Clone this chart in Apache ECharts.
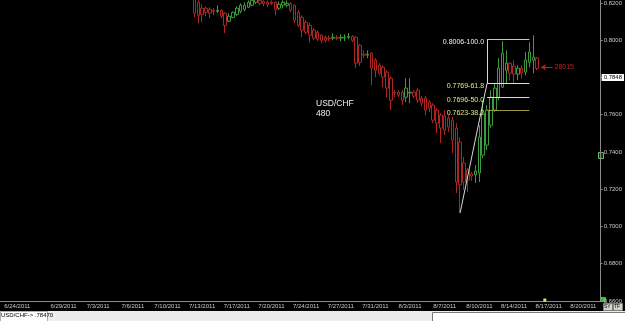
<!DOCTYPE html>
<html>
<head>
<meta charset="utf-8">
<title>USD/CHF 480</title>
<script src="https://cdn.jsdelivr.net/npm/echarts@6/dist/echarts.min.js"></script>
<style>
  html, body { margin: 0; padding: 0; background: #000; }
  #chart { width: 625px; height: 321px; }
</style>
</head>
<body>
<div id="chart"></div>
<script>
// USD/CHF, 8-hour bars (480 min)
const BAR_COUNT = 156
const LAST_TRADE_DAY = new Date(2011, 7, 16)

// dates that get a label on the time axis
const tickDates = ['6/24/2011', '6/29/2011', '7/3/2011', '7/6/2011', '7/10/2011', '7/13/2011',
  '7/17/2011', '7/20/2011', '7/24/2011', '7/27/2011', '7/31/2011', '8/3/2011', '8/7/2011',
  '8/10/2011', '8/14/2011', '8/17/2011', '8/20/2011']

// first bar that shows inside the price range (older ones sit above 0.82)
const firstCandle = '7/12/2011 08:00'

const opens = [
  0.8257, 0.8204, 0.8172, 0.8172, 0.8166, 0.8161, 0.8155, 0.8161, 0.8145, 0.8102,
  0.8123, 0.8139, 0.8155, 0.8166, 0.8177, 0.8188, 0.8204, 0.8214, 0.8209, 0.8204,
  0.8204, 0.8204, 0.8172, 0.8188, 0.8188, 0.8198, 0.8188, 0.8150, 0.8123, 0.8096,
  0.8080, 0.8054, 0.8043, 0.8027, 0.8016, 0.8011, 0.8011, 0.8013, 0.8011, 0.8013,
  0.8016, 0.8021, 0.8016, 0.7973, 0.7925, 0.7920, 0.7930, 0.7893, 0.7866, 0.7855,
  0.7829, 0.7796, 0.7721, 0.7721, 0.7721, 0.7694, 0.7716, 0.7721, 0.7732, 0.7689,
  0.7689, 0.7668, 0.7652, 0.7625, 0.7598, 0.7593, 0.7582, 0.7571, 0.7528, 0.7453,
  0.7341, 0.7303, 0.7282, 0.7277, 0.7287, 0.7383, 0.7437, 0.7544, 0.7625, 0.7694,
  0.7748, 0.7839, 0.7877, 0.7861, 0.7818, 0.7850, 0.7829, 0.7882, 0.7893, 0.7904
]
const closes = [
  0.8145, 0.8134, 0.8139, 0.8150, 0.8145, 0.8155, 0.8161, 0.8129, 0.8080, 0.8129,
  0.8150, 0.8172, 0.8188, 0.8188, 0.8204, 0.8214, 0.8220, 0.8198, 0.8198, 0.8193,
  0.8198, 0.8166, 0.8193, 0.8204, 0.8198, 0.8161, 0.8107, 0.8080, 0.8054, 0.8043,
  0.8027, 0.8011, 0.8005, 0.8000, 0.8000, 0.8008, 0.8016, 0.8011, 0.8016, 0.8016,
  0.8021, 0.8000, 0.7877, 0.7882, 0.7920, 0.7925, 0.7850, 0.7839, 0.7823, 0.7802,
  0.7743, 0.7678, 0.7716, 0.7705, 0.7678, 0.7743, 0.7721, 0.7700, 0.7678, 0.7662,
  0.7625, 0.7636, 0.7571, 0.7555, 0.7528, 0.7517, 0.7534, 0.7464, 0.7239, 0.7223,
  0.7239, 0.7250, 0.7271, 0.7298, 0.7480, 0.7609, 0.7625, 0.7694, 0.7743, 0.7850,
  0.7930, 0.7877, 0.7823, 0.7818, 0.7850, 0.7823, 0.7893, 0.7936, 0.7909, 0.7848
]
const lows = [
  0.8123, 0.8091, 0.8096, 0.8129, 0.8118, 0.8134, 0.8145, 0.8118, 0.8038, 0.8096,
  0.8118, 0.8129, 0.8145, 0.8155, 0.8172, 0.8182, 0.8193, 0.8188, 0.8182, 0.8177,
  0.8188, 0.8134, 0.8161, 0.8172, 0.8177, 0.8150, 0.8091, 0.8070, 0.8016, 0.8032,
  0.7989, 0.8000, 0.7995, 0.7984, 0.7989, 0.7995, 0.8000, 0.8000, 0.7995, 0.7995,
  0.8005, 0.7989, 0.7850, 0.7861, 0.7904, 0.7904, 0.7759, 0.7802, 0.7812, 0.7748,
  0.7694, 0.7625, 0.7694, 0.7694, 0.7652, 0.7668, 0.7662, 0.7689, 0.7662, 0.7646,
  0.7598, 0.7614, 0.7555, 0.7502, 0.7448, 0.7491, 0.7507, 0.7394, 0.7180, 0.7073,
  0.7196, 0.7185, 0.7244, 0.7234, 0.7239, 0.7367, 0.7410, 0.7528, 0.7614, 0.7678,
  0.7743, 0.7770, 0.7786, 0.7770, 0.7786, 0.7796, 0.7812, 0.7855, 0.7823, 0.7839
]
const highs = [
  0.8279, 0.8214, 0.8193, 0.8182, 0.8177, 0.8172, 0.8188, 0.8166, 0.8150, 0.8145,
  0.8155, 0.8182, 0.8198, 0.8204, 0.8214, 0.8225, 0.8230, 0.8225, 0.8214, 0.8214,
  0.8214, 0.8209, 0.8209, 0.8214, 0.8214, 0.8204, 0.8193, 0.8161, 0.8134, 0.8107,
  0.8096, 0.8064, 0.8054, 0.8032, 0.8027, 0.8027, 0.8038, 0.8027, 0.8032, 0.8032,
  0.8038, 0.8027, 0.8021, 0.7979, 0.7946, 0.7946, 0.7936, 0.7904, 0.7877, 0.7866,
  0.7839, 0.7807, 0.7732, 0.7732, 0.7732, 0.7796, 0.7796, 0.7732, 0.7743, 0.7700,
  0.7700, 0.7678, 0.7662, 0.7636, 0.7609, 0.7625, 0.7598, 0.7587, 0.7555, 0.7480,
  0.7373, 0.7314, 0.7293, 0.7330, 0.7544, 0.7678, 0.7652, 0.7732, 0.7770, 0.7904,
  0.7995, 0.7946, 0.7882, 0.7893, 0.7866, 0.7866, 0.7936, 0.7989, 0.8027, 0.7909
]

// fibonacci retracement drawn on the rebound
const fibPct = [100, 61.8, 50, 38.2]
const fibLevels = [0.8006, 0.7769, 0.7696, 0.7623]
const fibFrom = '8/10/2011 16:00'
const fibTo = '8/15/2011 08:00'
const swingLow = ['8/8/2011 08:00', 0.7073]

const lastPrice = 0.7848
const arrowFrom = '8/17/2011 08:00'
const arrowTo = '8/16/2011 08:00'
const arrowPrice = 0.7855
const arrowNote = '28015'
const nowBar = '8/16/2011 16:00'
const statusText = 'USD/CHF-> .78470'

const RED = '#b02424'
const GREEN = '#3c9c3c'
const AXIS = '#8a8a8a'
const TEXT = '#c8c8c8'
const FONT = 'Liberation Sans'

// build the bar slots: 3 bars a day, no Saturdays in the history part
const pad = n => String(n).padStart(2, '0')
const allBars = []
for (let d = new Date(2011, 5, 22); allBars.length < BAR_COUNT + 2; d.setDate(d.getDate() + 1)) {
  if (d.getDay() === 6 && d <= LAST_TRADE_DAY) continue
  const day = `${d.getMonth() + 1}/${d.getDate()}/${d.getFullYear()}`
  for (const h of [0, 8, 16]) allBars.push(`${day} ${pad(h)}:00`)
}
const categories = allBars.slice(2, 2 + BAR_COUNT)
const tickSet = new Set(tickDates.map(d => d + ' 00:00'))

const start = categories.indexOf(firstCandle)
const candleData = categories.map((c, i) => {
  const k = i - start
  return k >= 0 && k < opens.length ? [opens[k], closes[k], lows[k], highs[k]] : '-'
})

const fibLineColors = ['#c8c8c8', '#e4e4c4', '#e2e2aa', '#9a9a44']
const fibTextColors = ['#f2f2f2', '#e6e68c', '#e6e68c', '#e6e68c']

const markLines = fibLevels.map((lv, k) => [
  {
    coord: [fibFrom, lv],
    lineStyle: { color: fibLineColors[k], width: 1, type: 'solid' },
    label: {
      show: true, position: 'start', distance: 3, offset: [0, 3],
      formatter: `${lv.toFixed(4)}-${fibPct[k].toFixed(1)}`,
      color: fibTextColors[k], fontSize: 7, fontFamily: FONT
    }
  },
  { coord: [fibTo, lv] }
])
// trend line from the swing low and the vertical of the tool
markLines.push([
  { coord: swingLow, lineStyle: { color: '#d8d8d8', width: 1, type: 'solid' }, label: { show: false } },
  { coord: [fibFrom, fibLevels[1]] }
])
markLines.push([
  { coord: [fibFrom, fibLevels[1]], lineStyle: { color: '#d8d8d8', width: 1, type: 'solid' }, label: { show: false } },
  { coord: [fibFrom, fibLevels[0]] }
])
// red arrow note beside the last bar
markLines.push([
  {
    coord: [arrowFrom, arrowPrice], symbol: 'none',
    lineStyle: { color: RED, width: 1, type: 'solid' },
    label: { show: true, position: 'start', distance: 2, formatter: arrowNote, color: RED, fontSize: 7, fontFamily: FONT }
  },
  { coord: [arrowTo, arrowPrice], symbol: 'arrow', symbolSize: 5 }
])
// last price tag on the price axis
markLines.push({
  yAxis: lastPrice,
  lineStyle: { width: 0, color: 'rgba(0,0,0,0)' },
  label: {
    show: true, position: 'end', distance: 1,
    formatter: lastPrice.toFixed(4),
    color: '#000', backgroundColor: '#fff', padding: [1, 2, 0, 2],
    fontSize: 6, fontFamily: FONT
  }
})

const chart = echarts.init(document.getElementById('chart'))

chart.setOption({
  backgroundColor: '#000',
  animation: false,
  title: {
    text: 'USD/CHF\n480',
    left: 316, top: 99,
    padding: 0,
    textStyle: { color: '#f0f0f0', fontSize: 8.5, lineHeight: 9.5, fontWeight: 'normal', fontFamily: FONT }
  },
  grid: { left: 0, right: 21, top: 0, bottom: 20 },
  xAxis: {
    type: 'category',
    data: categories,
    boundaryGap: true,
    axisLine: { lineStyle: { color: AXIS } },
    axisTick: { show: false },
    axisLabel: {
      interval: (i, v) => tickSet.has(v),
      formatter: v => v.split(' ')[0],
      color: TEXT, fontSize: 6, margin: 2, fontFamily: FONT
    },
    splitLine: { show: false }
  },
  yAxis: {
    type: 'value',
    position: 'right',
    min: 0.66, max: 0.8214, interval: 0.02,
    axisLine: { show: true, lineStyle: { color: AXIS } },
    axisTick: { show: true, length: 2, lineStyle: { color: AXIS } },
    axisLabel: {
      color: TEXT, fontSize: 6, margin: 3, fontFamily: FONT,
      showMaxLabel: false,
      formatter: v => v.toFixed(4)
    },
    splitLine: { show: false }
  },
  series: [
    {
      type: 'candlestick',
      data: candleData,
      barWidth: 3,
      clip: true,
      itemStyle: {
        color: '#000', color0: '#000',
        borderColor: GREEN, borderColor0: RED,
        borderWidth: 1
      },
      markLine: {
        silent: true,
        symbol: 'none',
        animation: false,
        data: markLines
      },
      markPoint: {
        silent: true,
        data: [{ coord: [nowBar, 0.6605], symbol: 'rect', symbolSize: [3, 3], itemStyle: { color: '#e8e860' }, label: { show: false } }]
      }
    }
  ],
  graphic: [
    // status bar under the chart
    { type: 'rect', left: 0, top: 311, shape: { width: 625, height: 10 }, style: { fill: '#ececec' } },
    { type: 'rect', left: 0, top: 311, shape: { width: 47, height: 10 }, style: { fill: '#fff', stroke: '#b0b0b0' } },
    { type: 'text', left: 1, top: 312, style: { text: statusText, fill: '#000', fontSize: 6, fontFamily: FONT } },
    { type: 'rect', left: 432, top: 312, shape: { width: 193, height: 9 }, style: { fill: '#fff', stroke: '#7a7a7a' } },
    // corner widgets of the price axis
    { type: 'rect', left: 601, top: 297, shape: { width: 5, height: 5 }, style: { fill: '#22cc22' } },
    { type: 'rect', left: 598, top: 152, shape: { width: 5, height: 6 }, style: { fill: '#0a3a0a', stroke: '#66bb66' } },
    { type: 'rect', left: 603, top: 303, shape: { width: 9, height: 7 }, style: { fill: '#d4d0c8', stroke: '#808080' } },
    { type: 'text', left: 604, top: 304, style: { text: 'SY', fill: '#000', fontSize: 5, fontFamily: FONT } },
    { type: 'rect', left: 613, top: 303, shape: { width: 9, height: 7 }, style: { fill: '#d4d0c8', stroke: '#808080' } },
    { type: 'text', left: 614, top: 304, style: { text: 'TF', fill: '#000', fontSize: 5, fontFamily: FONT } }
  ]
})

window.addEventListener('resize', () => chart.resize())
</script>
</body>
</html>
